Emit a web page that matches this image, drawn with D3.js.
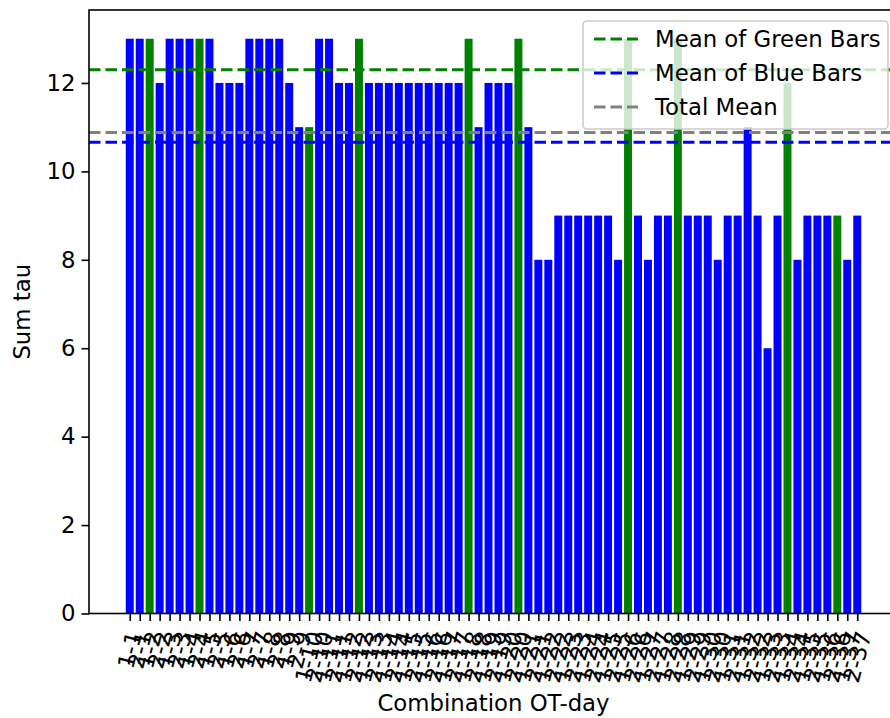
<!DOCTYPE html>
<html>
<head>
<meta charset="utf-8">
<script src="https://cdn.jsdelivr.net/npm/d3@7"></script>
<style>
  html, body { margin: 0; padding: 0; background: #fff; }
  svg { display: block; font-family: "DejaVu Sans", sans-serif; }
</style>
</head>
<body>
<svg id="chart" width="890" height="718"></svg>
<script>
// ---- data ----
const labels = [
  "1-1","2-1","1-2","2-2","1-3","2-3","1-4","2-4","1-5","2-5","1-6","2-6","1-7","2-7","1-8","2-8","1-9","2-9",
  "1-10","2-10","1-11","2-11","1-12","2-12","1-13","2-13","1-14","2-14","1-15","2-15","1-16","2-16",
  "1-17","2-17","1-18","2-18","1-19","2-19","1-20","2-20","1-21","2-21","1-22","2-22","1-23","2-23",
  "1-24","2-24","1-25","2-25","1-26","2-26","1-27","2-27","1-28","2-28","1-29","2-29","1-30","2-30",
  "1-31","2-31","1-32","2-32","1-33","2-33","1-34","2-34","1-35","2-35","1-36","2-36","1-37","2-37"
];
const values = [
  13,13,13,12,13,13,13,13,13,12,
  12,12,13,13,13,13,12,11,11,13,
  13,12,12,13,12,12,12,12,12,12,
  12,12,12,12,13,11,12,12,12,13,
  11,8,8,9,9,9,9,9,9,8,
  13,9,8,9,9,13,9,9,9,8,
  9,9,11,9,6,9,12,8,9,9,
  9,9,8,9
];
const groups = [
  "B","B","G","B","B","B","B","G","B","B",
  "B","B","B","B","B","B","B","B","G","B",
  "B","B","B","G","B","B","B","B","B","B",
  "B","B","B","B","G","B","B","B","B","G",
  "B","B","B","B","B","B","B","B","B","B",
  "G","B","B","B","B","G","B","B","B","B",
  "B","B","B","B","B","B","G","B","B","B",
  "B","G","B","B"
];
const yTicks = [0, 2, 4, 6, 8, 10, 12];
const legendLabels = ["Mean of Green Bars", "Mean of Blue Bars", "Total Mean"];
const xTitle = "Combination OT-day";
const yTitle = "Sum tau";

// ---- layout ----
const FS = 22.8;
const pL = 89, pT = 10, pR = 898, pB = 613.5;
const nBars = values.length;
const barW = 0.8;
const span = (nBars - 1) + barW;
const xMargin = 0.05 * span;
const yMax = 13 * 1.05;

const svg = d3.select("#chart");
const x = d3.scaleLinear().domain([-barW / 2 - xMargin, (nBars - 1) + barW / 2 + xMargin]).range([pL, pR]);
const y = d3.scaleLinear().domain([0, yMax]).range([pB, pT]);

const colorOf = g => g === "G" ? "#008000" : "#0000ff";

// bars
svg.append("g").selectAll("rect").data(values).join("rect")
  .attr("x", (d, i) => x(i - barW / 2))
  .attr("width", (d, i) => x(i + barW / 2) - x(i - barW / 2))
  .attr("y", d => y(d))
  .attr("height", d => y(0) - y(d))
  .attr("fill", (d, i) => colorOf(groups[i]));

// means
const greenVals = values.filter((v, i) => groups[i] === "G");
const blueVals = values.filter((v, i) => groups[i] === "B");
const means = [d3.mean(greenVals), d3.mean(blueVals), d3.mean(values)];
const lineColors = ["#008000", "#0000ff", "#808080"];
const LW = 3.0, DASH = "11.5,5";

svg.append("g").selectAll("line").data(means).join("line")
  .attr("x1", pL).attr("x2", pR)
  .attr("y1", d => y(d)).attr("y2", d => y(d))
  .attr("stroke", (d, i) => lineColors[i])
  .attr("stroke-width", LW)
  .attr("stroke-dasharray", DASH);

// spines
svg.append("rect").attr("x", pL).attr("y", pT).attr("width", pR - pL).attr("height", pB - pT)
  .attr("fill", "none").attr("stroke", "#000").attr("stroke-width", 1.6);

// y axis
const yAxis = d3.axisLeft(y).tickValues(yTicks).tickSizeOuter(0).tickSize(7.5).tickPadding(6);
const gy = svg.append("g").attr("transform", `translate(${pL},0)`).call(yAxis);
gy.select(".domain").remove();
gy.selectAll("line").attr("stroke", "#000").attr("stroke-width", 1.6);
gy.selectAll("text").attr("font-size", FS).attr("fill", "#000").attr("font-family", "DejaVu Sans");

// x axis ticks
const xAxis = d3.axisBottom(x).tickValues(d3.range(nBars)).tickFormat(() => "").tickSizeOuter(0).tickSize(7.5);
const gx = svg.append("g").attr("transform", `translate(0,${pB})`).call(xAxis);
gx.select(".domain").remove();
gx.selectAll("line").attr("stroke", "#000").attr("stroke-width", 1.6);

// rotated x tick labels (rotation=75, ha=center, va=top)
const labTop = pB + 7.5 + 7.5;
const ang = 75 * Math.PI / 180;
const lg = svg.append("g").attr("font-size", FS).attr("fill", "#000");
labels.forEach((lab, i) => {
  const t = lg.append("text").text(lab)
    .attr("text-anchor", "middle")
    .attr("dominant-baseline", "central");
  const L = t.node().getComputedTextLength();
  const H = FS * 1.16;
  const h = L * Math.sin(ang) + H * Math.cos(ang);
  t.attr("transform", `translate(${x(i)},${labTop + h / 2}) rotate(-75)`);
});

// axis titles
svg.append("text").text(xTitle)
  .attr("x", (pL + pR) / 2).attr("y", 711)
  .attr("text-anchor", "middle").attr("font-size", FS).attr("fill", "#000");
svg.append("text").text(yTitle)
  .attr("transform", `translate(30,${(pT + pB) / 2}) rotate(-90)`)
  .attr("text-anchor", "middle").attr("font-size", FS).attr("fill", "#000");

// legend
const lgX = 583, lgY = 21, lgW = 305, lgH = 108;
const leg = svg.append("g");
leg.append("rect").attr("x", lgX).attr("y", lgY).attr("width", lgW).attr("height", lgH)
  .attr("rx", 4).attr("ry", 4)
  .attr("fill", "rgba(255,255,255,0.8)").attr("stroke", "#cccccc").attr("stroke-width", 1.6);
const rowY = [39, 73, 107];
legendLabels.forEach((lab, i) => {
  leg.append("line")
    .attr("x1", 594).attr("x2", 638).attr("y1", rowY[i]).attr("y2", rowY[i])
    .attr("stroke", lineColors[i]).attr("stroke-width", LW).attr("stroke-dasharray", DASH);
  leg.append("text").text(lab)
    .attr("x", 655).attr("y", rowY[i]).attr("dy", "0.36em")
    .attr("font-size", FS).attr("fill", "#000");
});
</script>
</body>
</html>
